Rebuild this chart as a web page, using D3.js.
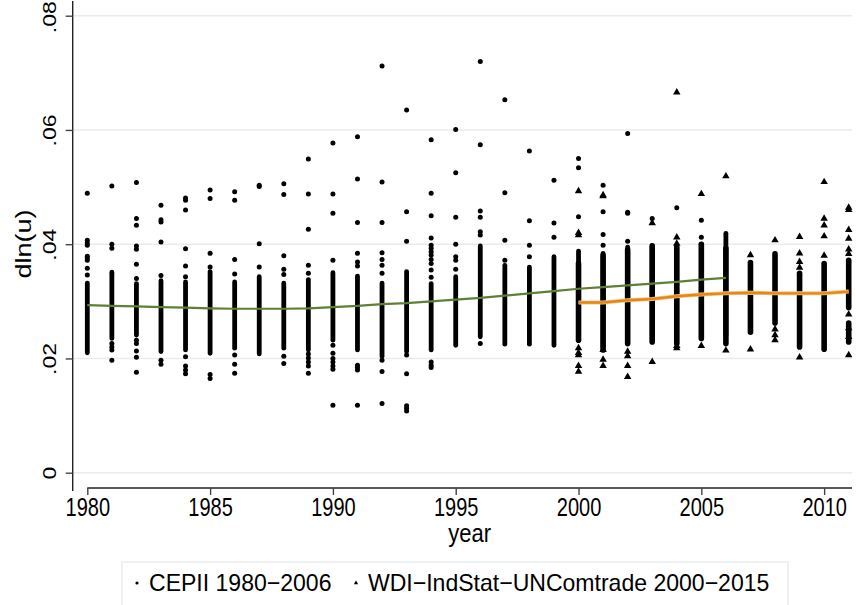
<!DOCTYPE html>
<html>
<head>
<meta charset="utf-8">
<script src="https://cdn.jsdelivr.net/npm/d3@7"></script>
<style>
  html, body { margin: 0; padding: 0; background: #fff; }
  svg { display: block; }
  text { font-family: "Liberation Sans", Arial, Helvetica, sans-serif; fill: #000; }
</style>
</head>
<body>
<div class="chart"></div>
<script>
document.addEventListener("DOMContentLoaded", function(e) {

// ---- data ----
var xTicks = [1980, 1985, 1990, 1995, 2000, 2005, 2010];
var yTicks = [0, 0.02, 0.04, 0.06, 0.08];

// dense columns: [year, low, high]
var cepiiBands = [
  [1980, 0.0210, 0.0332], [1981, 0.0235, 0.0351], [1982, 0.0241, 0.0331],
  [1983, 0.0212, 0.0336], [1984, 0.0215, 0.0334], [1985, 0.0209, 0.0352],
  [1986, 0.0218, 0.0334], [1987, 0.0208, 0.0343], [1988, 0.0218, 0.0332],
  [1989, 0.0215, 0.0338], [1990, 0.0232, 0.0350], [1991, 0.0215, 0.0344],
  [1992, 0.0203, 0.0332], [1993, 0.0212, 0.0352], [1994, 0.0215, 0.0331],
  [1995, 0.0223, 0.0343], [1996, 0.0238, 0.0397], [1997, 0.0225, 0.0363],
  [1998, 0.0225, 0.0360], [1999, 0.0223, 0.0378], [2000, 0.0232, 0.0388],
  [2001, 0.0220, 0.0384], [2002, 0.0226, 0.0395], [2003, 0.0229, 0.0397],
  [2004, 0.0226, 0.0395], [2005, 0.0235, 0.0400], [2006, 0.0240, 0.0419]
];

// single points: [year, value]
var cepiiPoints = [
  [1980, 0.0489], [1980, 0.0407], [1980, 0.0402], [1980, 0.0398], [1980, 0.0379], [1980, 0.0376], [1980, 0.0372], [1980, 0.0358], [1980, 0.0346],
  [1981, 0.0502], [1981, 0.0400], [1981, 0.0393], [1981, 0.0226], [1981, 0.0220], [1981, 0.0215], [1981, 0.0197],
  [1982, 0.0508], [1982, 0.0445], [1982, 0.0433], [1982, 0.0397], [1982, 0.0391], [1982, 0.0365], [1982, 0.0340], [1982, 0.0232], [1982, 0.0226], [1982, 0.0213], [1982, 0.0202], [1982, 0.0176],
  [1983, 0.0468], [1983, 0.0443], [1983, 0.0439], [1983, 0.0404], [1983, 0.0345], [1983, 0.0197], [1983, 0.0190],
  [1984, 0.0481], [1984, 0.0477], [1984, 0.0460], [1984, 0.0392], [1984, 0.0362], [1984, 0.0343], [1984, 0.0203], [1984, 0.0187], [1984, 0.0180], [1984, 0.0173],
  [1985, 0.0495], [1985, 0.0480], [1985, 0.0384], [1985, 0.0360], [1985, 0.0172], [1985, 0.0165],
  [1986, 0.0492], [1986, 0.0477], [1986, 0.0373], [1986, 0.0348], [1986, 0.0206], [1986, 0.0190], [1986, 0.0174],
  [1987, 0.0503], [1987, 0.0501], [1987, 0.0401], [1987, 0.0360],
  [1988, 0.0506], [1988, 0.0487], [1988, 0.0380], [1988, 0.0356], [1988, 0.0347], [1988, 0.0204], [1988, 0.0191],
  [1989, 0.0549], [1989, 0.0488], [1989, 0.0426], [1989, 0.0363], [1989, 0.0349], [1989, 0.0208], [1989, 0.0201], [1989, 0.0194], [1989, 0.0187], [1989, 0.0174],
  [1990, 0.0577], [1990, 0.0488], [1990, 0.0454], [1990, 0.0372], [1990, 0.0223], [1990, 0.0209], [1990, 0.0200], [1990, 0.0194], [1990, 0.0187], [1990, 0.0181], [1990, 0.0118],
  [1991, 0.0588], [1991, 0.0514], [1991, 0.0438], [1991, 0.0384], [1991, 0.0369], [1991, 0.0362], [1991, 0.0188], [1991, 0.0184], [1991, 0.0180], [1991, 0.0118],
  [1992, 0.0712], [1992, 0.0509], [1992, 0.0438], [1992, 0.0385], [1992, 0.0373], [1992, 0.0363], [1992, 0.0349], [1992, 0.0197], [1992, 0.0177], [1992, 0.0121],
  [1993, 0.0635], [1993, 0.0457], [1993, 0.0405], [1993, 0.0206], [1993, 0.0173], [1993, 0.0117], [1993, 0.0113], [1993, 0.0108],
  [1994, 0.0583], [1994, 0.0489], [1994, 0.0450], [1994, 0.0411], [1994, 0.0398], [1994, 0.0393], [1994, 0.0387], [1994, 0.0381], [1994, 0.0373], [1994, 0.0366], [1994, 0.0355], [1994, 0.0342], [1994, 0.0194], [1994, 0.0188], [1994, 0.0184],
  [1995, 0.0601], [1995, 0.0525], [1995, 0.0447], [1995, 0.0400], [1995, 0.0378], [1995, 0.0372], [1995, 0.0356],
  [1996, 0.0720], [1996, 0.0574], [1996, 0.0458], [1996, 0.0447], [1996, 0.0422], [1996, 0.0416], [1996, 0.0226],
  [1997, 0.0653], [1997, 0.0490], [1997, 0.0407], [1997, 0.0372],
  [1998, 0.0563], [1998, 0.0441], [1998, 0.0398], [1998, 0.0378],
  [1999, 0.0512], [1999, 0.0437], [1999, 0.0412],
  [2000, 0.0550], [2000, 0.0534], [2000, 0.0448],
  [2001, 0.0503], [2001, 0.0457], [2001, 0.0417], [2001, 0.0398],
  [2002, 0.0594], [2002, 0.0456], [2002, 0.0454], [2002, 0.0405],
  [2003, 0.0445],
  [2004, 0.0464],
  [2005, 0.0442], [2005, 0.0412]
];

var wdiBands = [
  [2000, 0.0232, 0.0366], [2001, 0.0215, 0.0380], [2002, 0.0226, 0.0390],
  [2003, 0.0229, 0.0397], [2004, 0.0226, 0.0395], [2005, 0.0235, 0.0400],
  [2006, 0.0226, 0.0393], [2007, 0.0246, 0.0368], [2008, 0.0262, 0.0383],
  [2009, 0.0220, 0.0349], [2010, 0.0216, 0.0366], [2011, 0.0289, 0.0372],
  [2011, 0.0229, 0.0262]
];

var wdiPoints = [
  [2000, 0.0493], [2000, 0.0420], [2000, 0.0416], [2000, 0.0218], [2000, 0.0210], [2000, 0.0206], [2000, 0.0187], [2000, 0.0177],
  [2001, 0.0486], [2001, 0.0484], [2001, 0.0215], [2001, 0.0198], [2001, 0.0187],
  [2002, 0.0212], [2002, 0.0204], [2002, 0.0187], [2002, 0.0168],
  [2003, 0.0437], [2003, 0.0194],
  [2004, 0.0666], [2004, 0.0412], [2004, 0.0401], [2004, 0.0222], [2004, 0.0218],
  [2005, 0.0488], [2005, 0.0222],
  [2006, 0.0519], [2006, 0.0214],
  [2007, 0.0381], [2007, 0.0216],
  [2008, 0.0407], [2008, 0.0251], [2008, 0.0241], [2008, 0.0232],
  [2009, 0.0413], [2009, 0.0384], [2009, 0.0369], [2009, 0.0359], [2009, 0.0202],
  [2010, 0.0509], [2010, 0.0445], [2010, 0.0433], [2010, 0.0414], [2010, 0.0380],
  [2011, 0.0464], [2011, 0.0460], [2011, 0.0425], [2011, 0.0410], [2011, 0.0391], [2011, 0.0383], [2011, 0.0277], [2011, 0.0253], [2011, 0.0238], [2011, 0.0206]
];

// smoothed lines
var cepiiFitYears = d3.range(1980, 2007);
var cepiiFit = [0.02934, 0.0292, 0.0291, 0.0290, 0.0289, 0.02877, 0.0287, 0.0287, 0.0287, 0.02877,
                0.0290, 0.0292, 0.0295, 0.0297, 0.0300, 0.0303, 0.0306, 0.0310, 0.0314, 0.0318,
                0.0322, 0.0325, 0.0328, 0.0331, 0.0334, 0.0338, 0.0341];
var wdiFitYears = d3.range(2000, 2012);
var wdiFit = [0.0298, 0.0298, 0.0302, 0.0304, 0.0309, 0.0312, 0.0314, 0.0315, 0.0314, 0.0314, 0.0314, 0.0317];

var legendLabels = ["CEPII 1980\u22122006", "WDI\u2212IndStat\u2212UNComtrade 2000\u22122015"];

// ---- layout ----
var width = 856, height = 605;
var sx = 0.8; // glyphs in the picture are narrower than they are tall

var svg = d3.select(".chart").append("svg")
    .attr("width", width)
    .attr("height", height);

var x = d3.scaleLinear().domain([1980, 2011]).range([87.3, 848.7]);
var y = d3.scaleLinear().domain([0, 0.08]).range([472.7, 15.7]);

var plotLeft = 72.7, plotRight = 852, axisY = 488;

// gridlines
svg.append("g").attr("class", "grid")
  .selectAll("line")
  .data(yTicks)
  .enter().append("line")
    .attr("x1", plotLeft)
    .attr("x2", plotRight)
    .attr("y1", function(d) { return y(d); })
    .attr("y2", function(d) { return y(d); })
    .attr("stroke", "#e6edf0")
    .attr("stroke-width", 1.6);

// y axis
var yAxis = svg.append("g")
    .attr("transform", "translate(" + plotLeft + ",0)")
    .call(d3.axisLeft(y)
      .tickValues(yTicks)
      .tickSize(7)
      .tickFormat(function(d) { return d === 0 ? "0" : d3.format(".2f")(d).replace(/^0/, ""); }));
yAxis.select(".domain").attr("d", "M0,1V491").attr("stroke", "#222").attr("stroke-width", 1.4);
yAxis.selectAll(".tick line").attr("stroke", "#444").attr("stroke-width", 1.4);
yAxis.selectAll(".tick text")
    .attr("x", null).attr("dy", null)
    .attr("text-anchor", "middle")
    .attr("font-size", 23)
    .attr("transform", function(d) {
      // keep the top label inside the picture
      var shift = d === 0.08 ? 1 : 0;
      return "translate(-17," + shift + ") scale(" + sx + ",1) rotate(-90)";
    });

// x axis
var xAxis = svg.append("g")
    .attr("transform", "translate(0," + axisY + ")")
    .call(d3.axisBottom(x)
      .tickValues(xTicks)
      .tickSize(7)
      .tickFormat(d3.format("d")));
xAxis.select(".domain").attr("d", "M" + x(1980) + ",0H" + plotRight).attr("stroke", "#222").attr("stroke-width", 1.4);
xAxis.selectAll(".tick line").attr("stroke", "#444").attr("stroke-width", 1.4);
xAxis.selectAll(".tick text")
    .attr("y", 28.5).attr("dy", null)
    .attr("font-size", 25)
    .attr("transform", "scale(" + sx + ",1)");

// axis titles
svg.append("text")
    .attr("text-anchor", "middle")
    .attr("font-size", 27)
    .attr("transform", "translate(31,244) scale(" + sx + ",1) rotate(-90)")
    .text("dln(u)");

svg.append("text")
    .attr("text-anchor", "middle")
    .attr("font-size", 25)
    .attr("transform", "translate(" + ((x(1980) + plotRight) / 2) + ",542) scale(0.88,1)")
    .text("year");

// ---- marks ----
var tri = d3.symbol().type(d3.symbolTriangle).size(24);

var marks = svg.append("g").attr("class", "marks");

marks.selectAll(".cband")
  .data(cepiiBands)
  .enter().append("line")
    .attr("class", "cband")
    .attr("x1", function(d) { return x(d[0]); })
    .attr("x2", function(d) { return x(d[0]); })
    .attr("y1", function(d) { return y(d[1]); })
    .attr("y2", function(d) { return y(d[2]); })
    .attr("stroke", "#000")
    .attr("stroke-width", 4.8)
    .attr("stroke-linecap", "round");

marks.selectAll(".wband")
  .data(wdiBands)
  .enter().append("line")
    .attr("class", "wband")
    .attr("x1", function(d) { return x(d[0]); })
    .attr("x2", function(d) { return x(d[0]); })
    .attr("y1", function(d) { return y(d[1]); })
    .attr("y2", function(d) { return y(d[2]); })
    .attr("stroke", "#000")
    .attr("stroke-width", 5.6)
    .attr("stroke-linecap", "round");

marks.selectAll(".cpt")
  .data(cepiiPoints)
  .enter().append("circle")
    .attr("class", "cpt")
    .attr("cx", function(d) { return x(d[0]); })
    .attr("cy", function(d) { return y(d[1]); })
    .attr("r", 2.5)
    .attr("fill", "#000");

marks.selectAll(".wpt")
  .data(wdiPoints)
  .enter().append("path")
    .attr("class", "wpt")
    .attr("d", tri)
    .attr("transform", function(d) { return "translate(" + x(d[0]) + "," + y(d[1]) + ")"; })
    .attr("fill", "#000");

// fitted lines
var line = d3.line()
    .x(function(d) { return x(d[0]); })
    .y(function(d) { return y(d[1]); });

svg.append("path")
    .datum(d3.zip(cepiiFitYears, cepiiFit))
    .attr("d", line)
    .attr("fill", "none")
    .attr("stroke", "#5f7f33")
    .attr("stroke-width", 2.2);

svg.append("path")
    .datum(d3.zip(wdiFitYears, wdiFit))
    .attr("d", line)
    .attr("fill", "none")
    .attr("stroke", "#f3c58c")
    .attr("stroke-width", 4);

svg.append("path")
    .datum(d3.zip(wdiFitYears, wdiFit))
    .attr("d", line)
    .attr("fill", "none")
    .attr("stroke", "#e8870f")
    .attr("stroke-width", 2.4);

// ---- legend ----
var lsx = 0.96;
var legend = svg.append("g").attr("class", "legend");

legend.append("rect")
    .attr("x", 122).attr("y", 562)
    .attr("width", 666).attr("height", 44)
    .attr("fill", "#fff")
    .attr("stroke", "#e3e9ea")
    .attr("stroke-width", 1.2);

legend.append("circle")
    .attr("cx", 137).attr("cy", 583).attr("r", 1.6).attr("fill", "#000");
legend.append("text")
    .attr("font-size", 24)
    .attr("transform", "translate(149,591) scale(" + lsx + ",1)")
    .text(legendLabels[0]);

legend.append("path")
    .attr("d", d3.symbol().type(d3.symbolTriangle).size(8))
    .attr("transform", "translate(356,583)")
    .attr("fill", "#000");
legend.append("text")
    .attr("font-size", 24)
    .attr("transform", "translate(368,591) scale(" + lsx + ",1)")
    .text(legendLabels[1]);

});
</script>
</body>
</html>
